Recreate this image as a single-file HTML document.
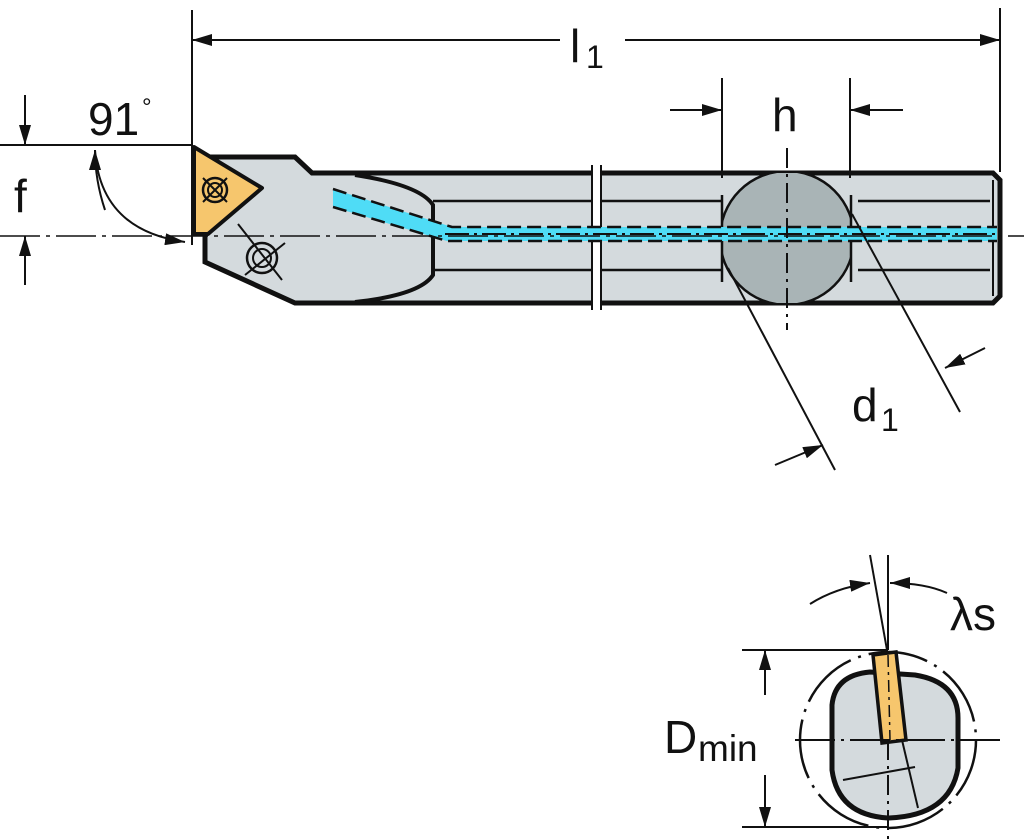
<!DOCTYPE html>
<html><head><style>body{margin:0;background:#fff}svg{display:block}text{font-family:"Liberation Sans",sans-serif;fill:#111}</style></head>
<body>
<svg width="1024" height="839" viewBox="0 0 1024 839" xmlns="http://www.w3.org/2000/svg">
<defs>
<marker id="b" markerWidth="20" markerHeight="12" refX="20" refY="6" orient="auto" markerUnits="userSpaceOnUse"><path d="M0,0 L20,6 L0,12Z" fill="#111"/></marker>
<clipPath id="cc"><rect x="722" y="173" width="129" height="130"/></clipPath>
</defs>
<g stroke="#111" fill="none">
<path d="M205,157 L295,157 L312,173 L993,173 L1000,180 L1000,296 L993,303 L295,303 L205,262 L205,236 Z" fill="#d4dadd" stroke-width="5"/>
<path d="M355,175 Q420,185 433,205 L433,275 Q420,295 355,302" stroke-width="4"/>
<line x1="433" y1="201" x2="722" y2="201" stroke-width="2.5"/>
<line x1="433" y1="270" x2="722" y2="270" stroke-width="2.5"/>
<line x1="858" y1="201" x2="990" y2="201" stroke-width="2.5"/>
<line x1="858" y1="270" x2="990" y2="270" stroke-width="2.5"/>
<line x1="993" y1="180" x2="993" y2="296" stroke-width="2"/>
<rect x="592" y="165" width="9" height="145" fill="#fff" stroke="none"/>
<line x1="592" y1="165" x2="592" y2="310" stroke-width="2"/><line x1="601" y1="165" x2="601" y2="310" stroke-width="2"/>
<circle cx="787" cy="238" r="67" fill="#a9b4b6" stroke-width="2.5" clip-path="url(#cc)"/>
<line x1="722" y1="195" x2="722" y2="282" stroke-width="2.5"/>
<line x1="851" y1="195" x2="851" y2="282" stroke-width="2.5"/>
<path d="M333,189 L333,207 L447,241 L997,241 L997,227 L452,227 Z" fill="#4fdcf6" stroke="none"/>
<path d="M333,189 L452,227 L997,227 M333,207 L447,241 L997,241" stroke-width="2.5" stroke-dasharray="14,6"/>
<line x1="445" y1="234" x2="997" y2="234" stroke-width="2" stroke-dasharray="24,5,3,5"/>
<path d="M194,147 L262,188 L208,234 L194,234 Z" fill="#f6c66d" stroke-width="4" stroke-linejoin="round"/>
<circle cx="215" cy="190" r="12" stroke-width="2.5"/><circle cx="215" cy="190" r="7" stroke-width="2"/>
<path d="M203,178 L227,202 M227,178 L203,202" stroke-width="2"/>
<circle cx="262" cy="258" r="15" stroke-width="2.5"/><circle cx="262" cy="258" r="9" stroke-width="2"/>
<path d="M238,224 L282,280 M245,275 L285,243" stroke-width="2"/>
<line x1="0" y1="236" x2="1024" y2="236" stroke-width="1.5" stroke-dasharray="40,6,4,6"/>
<line x1="192" y1="10" x2="192" y2="245" stroke-width="2"/>
<line x1="1000" y1="8" x2="1000" y2="172" stroke-width="2"/>
<line x1="560" y1="40" x2="192" y2="40" stroke-width="2" marker-end="url(#b)"/>
<line x1="625" y1="40" x2="1000" y2="40" stroke-width="2" marker-end="url(#b)"/>
<line x1="0" y1="145" x2="192" y2="145" stroke-width="2"/>
<line x1="25" y1="95" x2="25" y2="145" stroke-width="2" marker-end="url(#b)"/>
<line x1="25" y1="285" x2="25" y2="236" stroke-width="2" marker-end="url(#b)"/>
<path d="M95,150 Q100,230 185,242" stroke-width="2" marker-end="url(#b)"/>
<path d="M105,210 Q95,180 95,150" stroke-width="2" marker-end="url(#b)"/>
<line x1="722" y1="78" x2="722" y2="178" stroke-width="2"/>
<line x1="850" y1="78" x2="850" y2="178" stroke-width="2"/>
<line x1="670" y1="110" x2="722" y2="110" stroke-width="2" marker-end="url(#b)"/>
<line x1="903" y1="110" x2="850" y2="110" stroke-width="2" marker-end="url(#b)"/>
<line x1="787" y1="148" x2="787" y2="330" stroke-width="2" stroke-dasharray="20,6,3,6"/>
<line x1="728" y1="268" x2="835" y2="470" stroke-width="2"/>
<line x1="852" y1="214" x2="960" y2="412" stroke-width="2"/>
<line x1="775" y1="465" x2="823" y2="445" stroke-width="2" marker-end="url(#b)"/>
<line x1="985" y1="348" x2="945" y2="368" stroke-width="2" marker-end="url(#b)"/>
<circle cx="888" cy="740" r="88" stroke-width="2.5" stroke-dasharray="60,8,3,8"/>
<path d="M832,705 Q835,675 870,672 L915,675 Q958,682 958,718 L958,768 Q950,816 888,818 Q838,815 832,770 Z" fill="#d4dadd" stroke-width="5"/>
<line x1="843" y1="780" x2="915" y2="767" stroke-width="2"/>
<line x1="902" y1="740" x2="918" y2="808" stroke-width="2"/>
<path d="M873,655 L896,652 L906,740 L882,743 Z" fill="#f6c66d" stroke-width="3.5"/>
<line x1="888" y1="655" x2="890" y2="740" stroke-width="1.5" stroke-dasharray="12,5,3,5"/>
<line x1="795" y1="740" x2="1002" y2="740" stroke-width="2" stroke-dasharray="40,6,3,6"/>
<line x1="888" y1="740" x2="888" y2="839" stroke-width="2" stroke-dasharray="20,6,3,6"/>
<line x1="888" y1="555" x2="888" y2="650" stroke-width="2"/>
<line x1="870" y1="555" x2="887" y2="650" stroke-width="2"/>
<line x1="742" y1="650" x2="888" y2="650" stroke-width="2"/>
<line x1="742" y1="827" x2="888" y2="827" stroke-width="2"/>
<line x1="765" y1="695" x2="765" y2="650" stroke-width="2" marker-end="url(#b)"/>
<line x1="765" y1="775" x2="765" y2="827" stroke-width="2" marker-end="url(#b)"/>
<path d="M810,604 Q835,588 870,583" stroke-width="2" marker-end="url(#b)"/>
<path d="M947,593 Q925,583 890,583" stroke-width="2" marker-end="url(#b)"/>
</g>
<text x="570" y="62" font-size="46">l</text><text x="586" y="68" font-size="32">1</text>
<text x="88" y="135" font-size="46">91</text><text x="142" y="115" font-size="24">°</text>
<text x="14" y="212" font-size="46">f</text>
<text x="772" y="131" font-size="46">h</text>
<text x="852" y="421" font-size="46">d</text><text x="881" y="431" font-size="32">1</text>
<text x="950" y="630" font-size="46">λs</text>
<text x="664" y="753" font-size="46">D</text><text x="698" y="761" font-size="37">min</text>
</svg>
</body></html>
